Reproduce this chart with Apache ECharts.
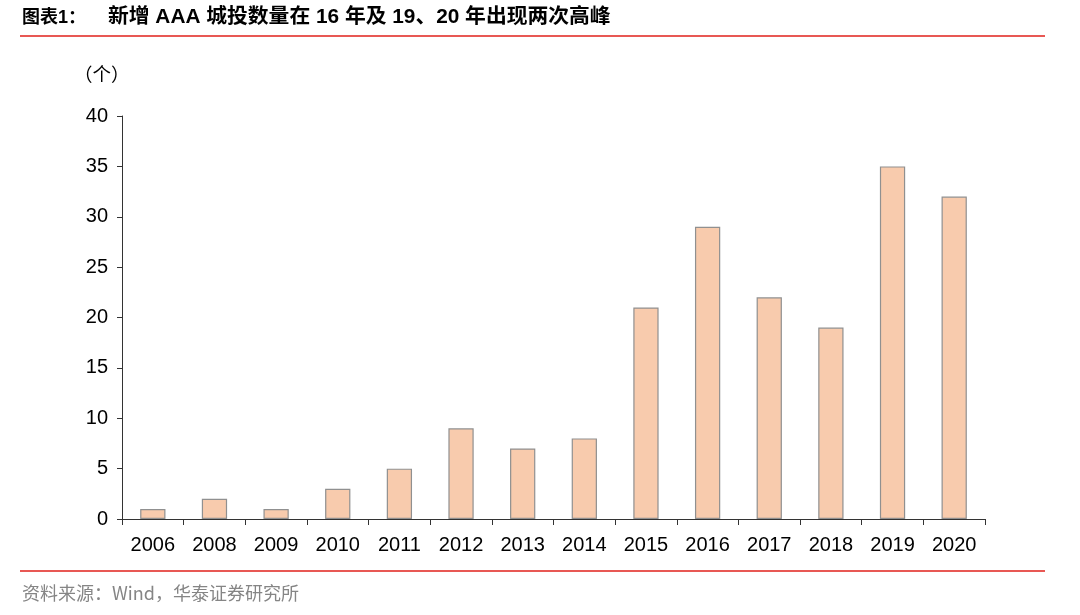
<!DOCTYPE html>
<html><head><meta charset="utf-8">
<script src="https://cdn.jsdelivr.net/npm/echarts@6/dist/echarts.min.js"></script>
<style>html,body{margin:0;padding:0;background:#fff}#c{width:1080px;height:615px}</style>
</head><body><div id="c"></div>
<script>
var categories = ['2006','2008','2009','2010','2011','2012','2013','2014','2015','2016','2017','2018','2019','2020'];
var values = [1,2,1,3,5,9,7,8,21,29,22,19,35,32];
var yTicks = [0,5,10,15,20,25,30,35,40];
var chart = echarts.init(document.getElementById('c'));
var font = '"Liberation Sans", Arial, "Noto Sans CJK SC", sans-serif';
chart.setOption({
  animation:false,
  backgroundColor:'#fff',
  grid:{left:122,right:95,top:116,bottom:96,containLabel:false},
  xAxis:{type:'category',data:categories,boundaryGap:true,
    axisLine:{lineStyle:{color:'#333',width:1}},
    axisTick:{show:true,length:6,lineStyle:{color:'#333'}},
    axisLabel:{color:'#000',fontSize:20,fontFamily:font,margin:16}},
  yAxis:{type:'value',min:0,max:40,interval:5,
    axisLine:{show:true,lineStyle:{color:'#333',width:1}},
    axisTick:{show:true,inside:false,length:5,lineStyle:{color:'#333'}},
    splitLine:{show:false},
    axisLabel:{color:'#000',fontSize:20,fontFamily:font,margin:14,
      formatter:function(v){return yTicks.indexOf(v)>=0?String(v):'';}}},
  series:[{type:'bar',data:values,barWidth:'41%',
    itemStyle:{color:'#F8CBAD',borderColor:'#909090',borderWidth:1.2}}],
  graphic:[
    {type:'text',left:22,top:9,style:{text:'图表1：',font:'bold 18px "Liberation Sans", "Noto Sans CJK SC", sans-serif',fill:'#000'}},
    {type:'text',left:108,top:7,style:{text:'新增 AAA 城投数量在 16 年及 19、20 年出现两次高峰',font:'bold 20.8px "Liberation Sans", "Noto Sans CJK SC", sans-serif',fill:'#000'}},
    {type:'line',shape:{x1:20,y1:36,x2:1045,y2:36},style:{stroke:'#E0201B',lineWidth:1.5}},
    {type:'text',left:74,top:65,style:{text:'（个）',font:'18.5px "Noto Sans CJK SC", sans-serif',fill:'#000'}},
    {type:'line',shape:{x1:20,y1:571,x2:1045,y2:571},style:{stroke:'#E0201B',lineWidth:1.5}},
    {type:'text',left:22,top:584,style:{text:'资料来源：Wind，华泰证券研究所',font:'18px "Noto Sans CJK SC", sans-serif',fill:'#858585'}}
  ]
});
</script></body></html>
